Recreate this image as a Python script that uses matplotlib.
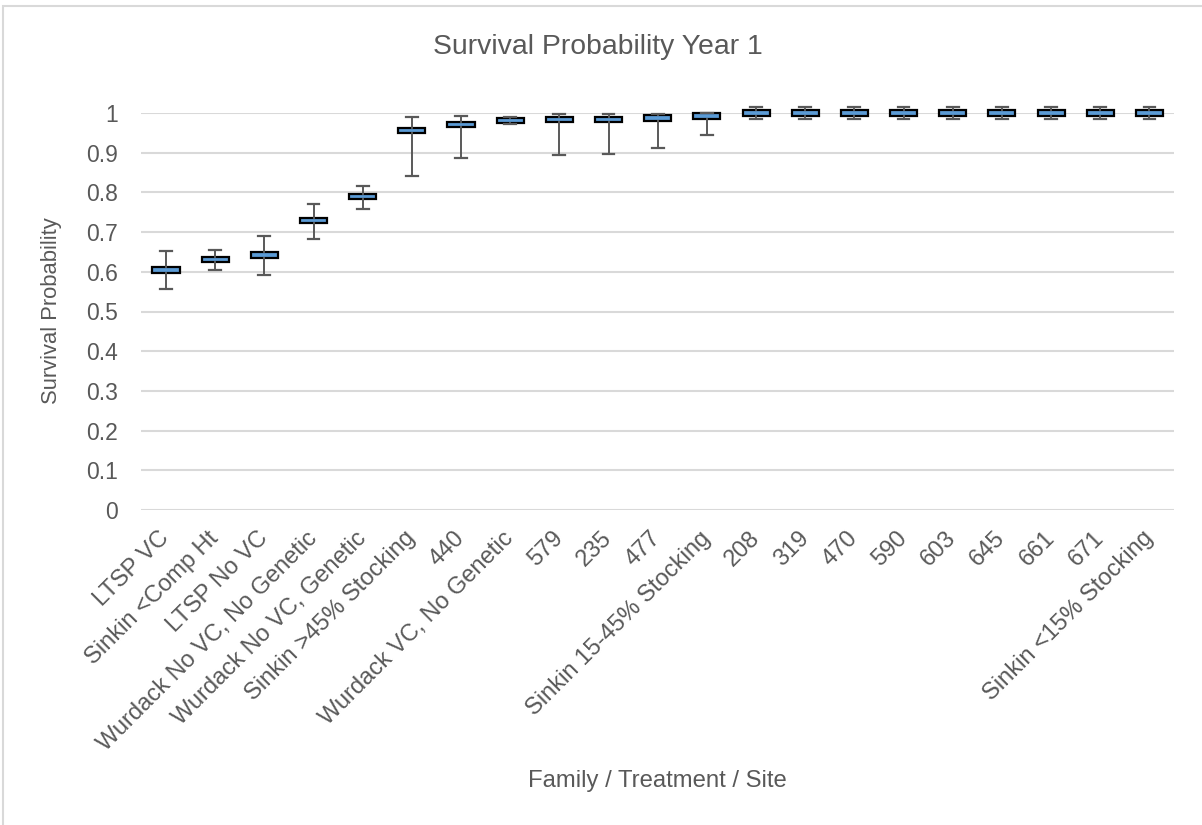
import matplotlib
matplotlib.use("Agg")
import matplotlib.pyplot as plt
from matplotlib.patches import Rectangle

categories = ["LTSP VC", "Sinkin <Comp Ht", "LTSP No VC", "Wurdack No VC, No Genetic",
              "Wurdack No VC, Genetic", "Sinkin >45% Stocking", "440", "Wurdack VC, No Genetic",
              "579", "235", "477", "Sinkin 15-45% Stocking", "208", "319", "470", "590",
              "603", "645", "661", "671", "Sinkin <15% Stocking"]
q1 = [0.598, 0.624, 0.636, 0.722, 0.783, 0.950, 0.964, 0.974, 0.977, 0.977, 0.980, 0.985,
      0.993, 0.993, 0.993, 0.993, 0.993, 0.993, 0.993, 0.993, 0.993]
q3 = [0.611, 0.637, 0.649, 0.736, 0.795, 0.963, 0.977, 0.988, 0.991, 0.991, 0.994, 0.999,
      1.007, 1.007, 1.007, 1.007, 1.007, 1.007, 1.007, 1.007, 1.007]
med = [0.604, 0.630, 0.642, 0.729, 0.789, 0.956, 0.970, 0.981, 0.984, 0.984, 0.987, 0.992,
       1.000, 1.000, 1.000, 1.000, 1.000, 1.000, 1.000, 1.000, 1.000]
whislo = [0.556, 0.605, 0.592, 0.683, 0.758, 0.842, 0.887, 0.972, 0.893, 0.897, 0.913, 0.945,
          0.986, 0.986, 0.986, 0.986, 0.986, 0.986, 0.986, 0.986, 0.986]
whishi = [0.653, 0.656, 0.689, 0.770, 0.817, 0.989, 0.993, 0.989, 0.997, 0.997, 0.998, 0.999,
          1.015, 1.015, 1.015, 1.015, 1.015, 1.015, 1.015, 1.015, 1.015]
yticks = [0, 0.1, 0.2, 0.3, 0.4, 0.5, 0.6, 0.7, 0.8, 0.9, 1]
ytick_labels = ["0", "0.1", "0.2", "0.3", "0.4", "0.5", "0.6", "0.7", "0.8", "0.9", "1"]

plt.rcParams['font.family'] = ['Liberation Sans', 'DejaVu Sans']
TXT = '#595959'

W, H = 1202, 825
fig = plt.figure(figsize=(W / 100, H / 100), dpi=100)
ax = fig.add_axes([141.4 / W, (H - 510) / H, (1174 - 141.4) / W, (510 - 113) / H])

stats = []
for i, c in enumerate(categories):
    stats.append(dict(label=c, q1=q1[i], q3=q3[i], med=med[i],
                      whislo=whislo[i], whishi=whishi[i], fliers=[]))
pos = list(range(len(categories)))
bp = ax.bxp(stats, positions=pos, widths=0.55, patch_artist=True, showfliers=False,
            capwidths=0.24,
            boxprops=dict(facecolor='#5B9BD5', edgecolor='black', linewidth=1.6),
            whiskerprops=dict(color=TXT, linewidth=1.4),
            capprops=dict(color=TXT, linewidth=1.6),
            medianprops=dict(color='#5B9BD5', linewidth=0))
for k in bp:
    for a in bp[k]:
        a.set_clip_on(False)
        a.set_zorder(3)

ax.set_xlim(-0.5, len(categories) - 0.5)
ax.set_ylim(0, 1.0)
ax.set_yticks(yticks)
ax.set_yticklabels(ytick_labels)
ax.set_xticks(pos)
ax.set_xticklabels(categories, rotation=45, ha='right', va='center', rotation_mode='anchor')
ax.tick_params(axis='x', length=0, pad=18, labelsize=17.0, labelcolor=TXT)
ax.tick_params(axis='y', length=0, pad=17, labelsize=16.5, labelcolor=TXT)
ax.grid(axis='y', color='#D9D9D9', linewidth=1.5)
ax.set_axisbelow(True)
for s in ax.spines.values():
    s.set_visible(False)

fig.text(598 / W, 1 - 47 / H, "Survival Probability Year 1", ha='center', va='center',
         fontsize=20.4, color=TXT)
fig.text(657 / W, 1 - 781 / H, "Family / Treatment / Site", ha='center', va='center',
         fontsize=17.2, color=TXT)
fig.text(52 / W, 1 - 311 / H, "Survival Probability", ha='center', va='center',
         rotation=90, fontsize=15.8, color=TXT)

fig.patches.append(Rectangle((3 / W, -0.05), 1.1, 1 - 6 / H + 0.05, transform=fig.transFigure,
                             fill=False, edgecolor='#D9D9D9', linewidth=1.5))

fig.savefig("out.png", dpi=100)
